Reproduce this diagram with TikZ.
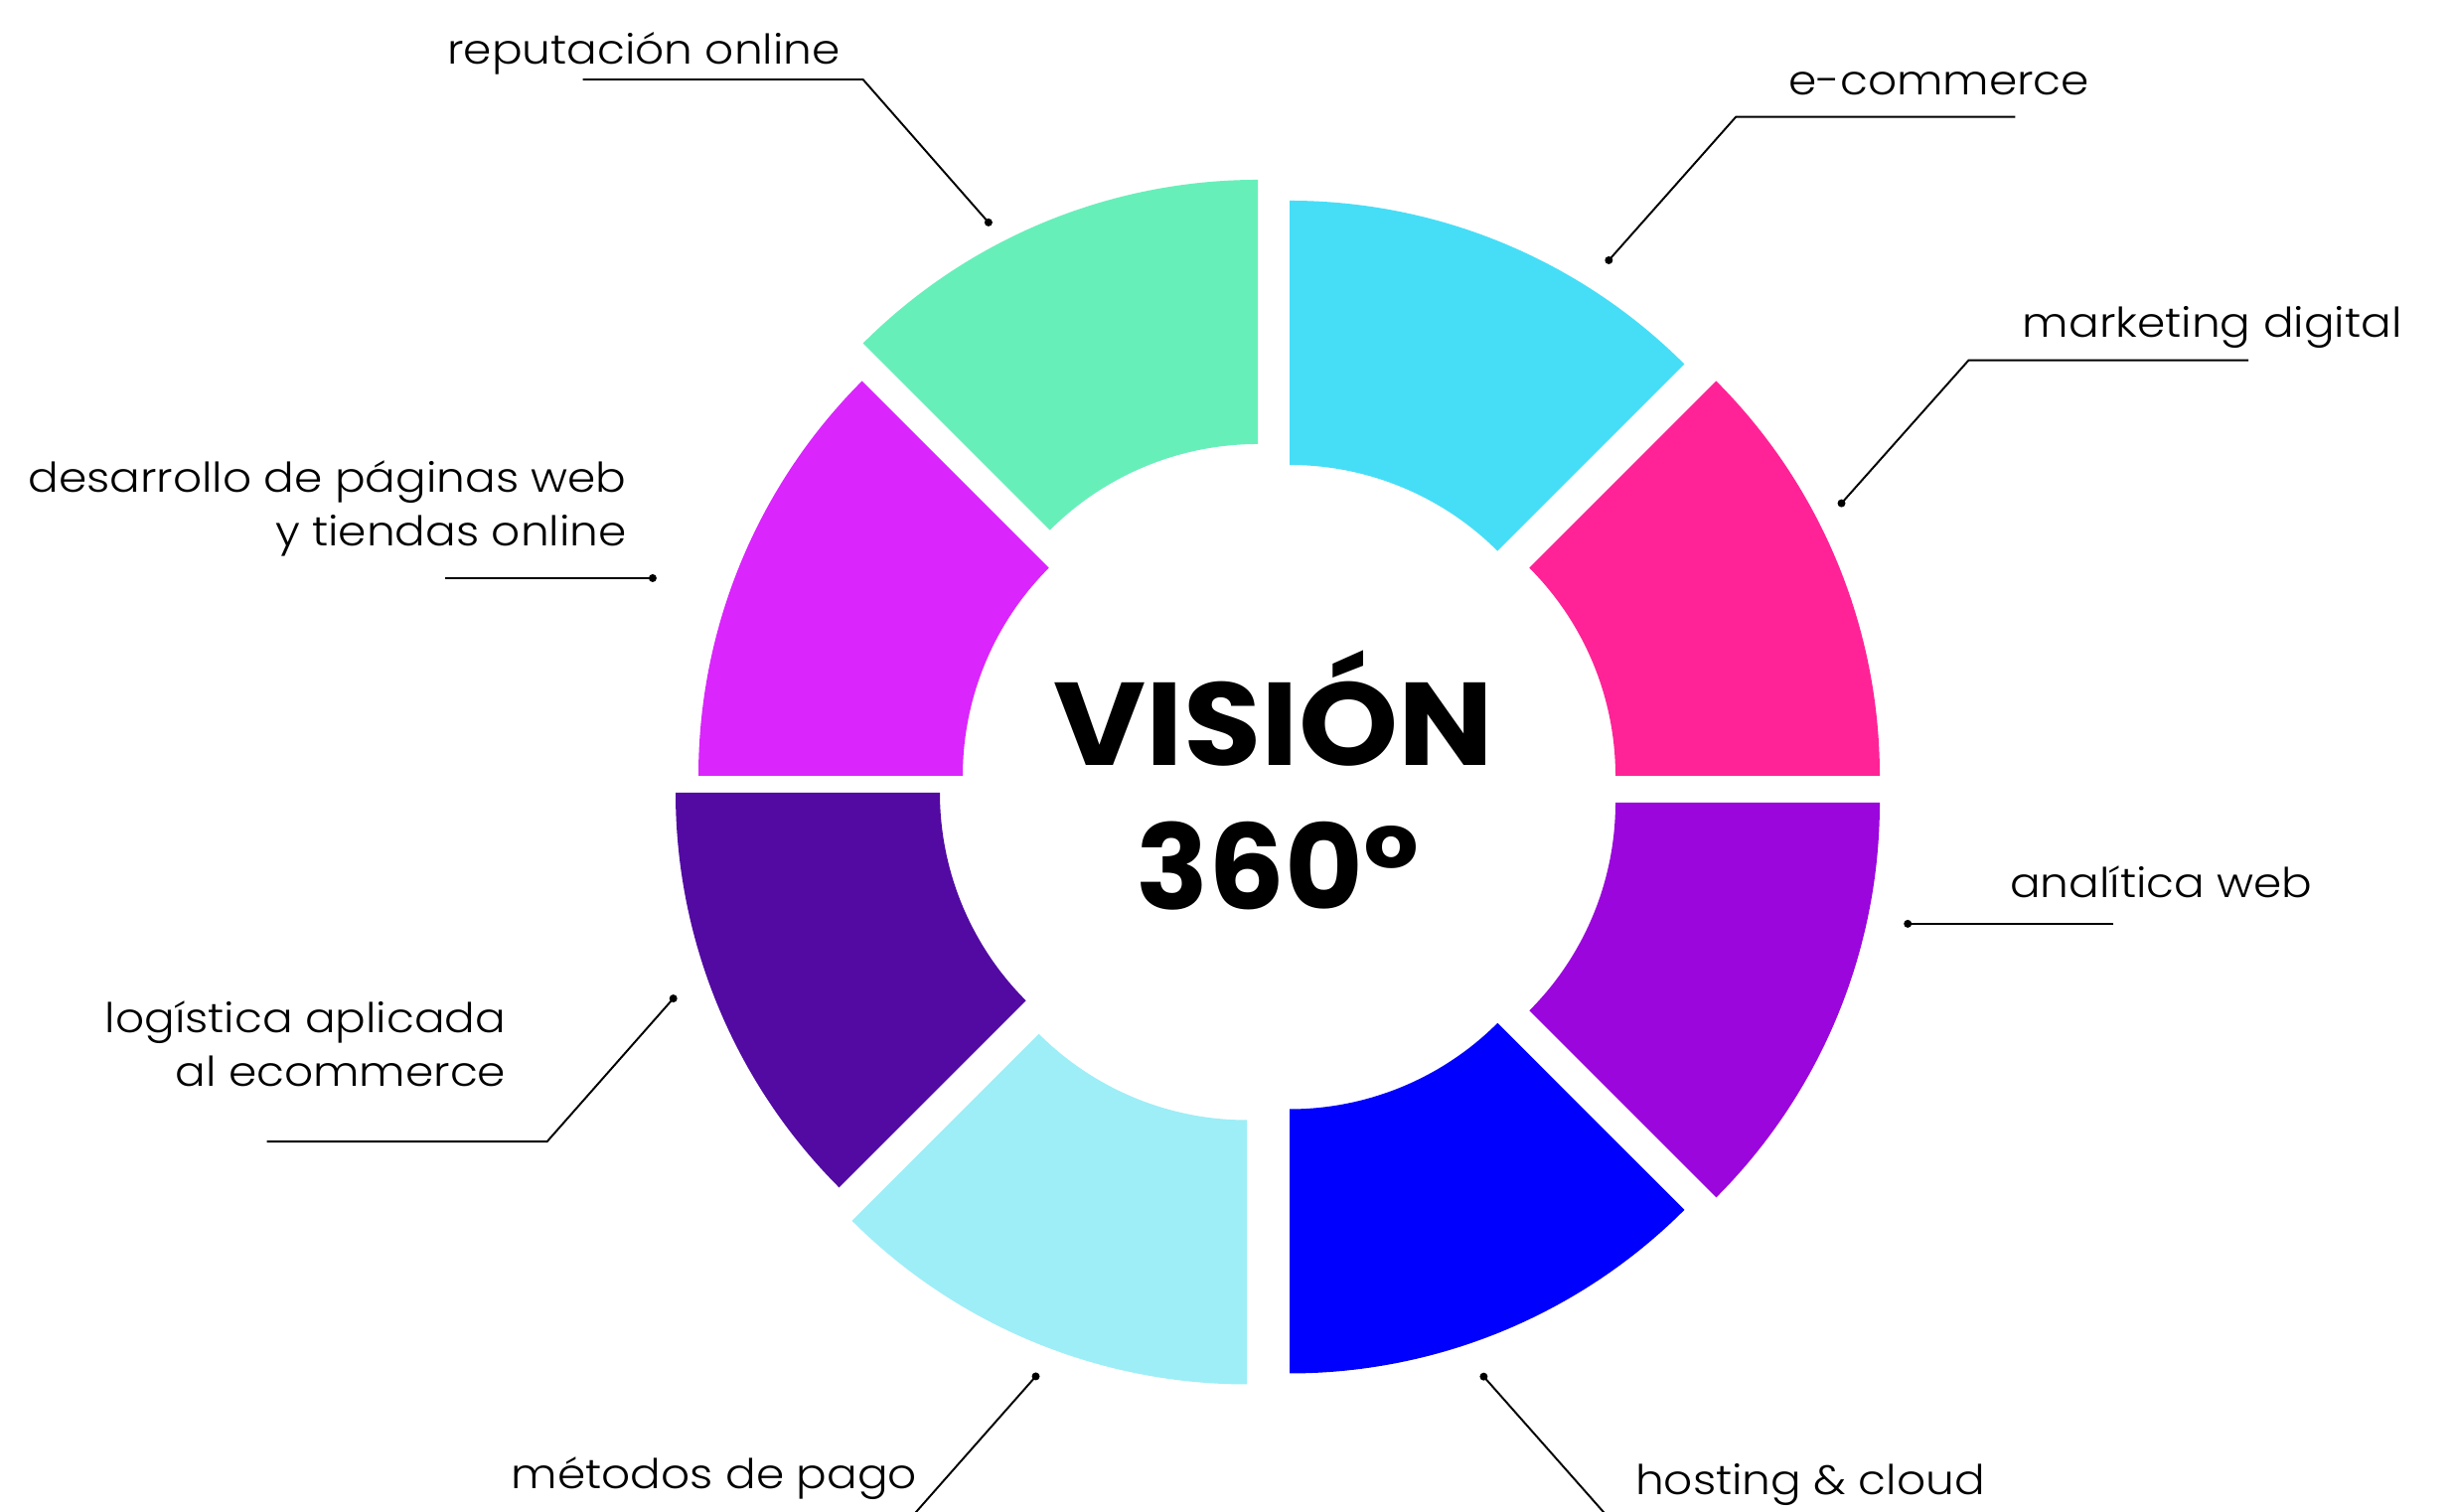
\documentclass[tikz,border=0pt]{standalone}
\usepackage{fontspec}
\setmainfont{Poppins Light}
\newfontfamily\lblfont{Poppins Light}[FakeStretch=1.10]
\newfontfamily\bigfont{Poppins Bold}[FakeStretch=1.075]
\newfontfamily\numfont{Poppins Bold}[FakeStretch=1.02]
\definecolor{cgreen}{HTML}{67EFBA}
\definecolor{ccyan}{HTML}{46DEF7}
\definecolor{cpink}{HTML}{FF2397}
\definecolor{cviolet}{HTML}{9B06DD}
\definecolor{cblue}{HTML}{0000FF}
\definecolor{clcyan}{HTML}{9DEEF7}
\definecolor{cdpurple}{HTML}{520AA3}
\definecolor{cmagenta}{HTML}{DA25FD}
\newcommand{\ringseg}[5]{\fill[#1,shift={(#2,#3)}] (#4:562) arc[start angle=#4,end angle=#5,radius=562] -- (#5:296) arc[start angle=#5,end angle=#4,radius=296] -- cycle;}
\begin{document}
\begin{tikzpicture}[x=0.01cm,y=0.01cm,
  lbl/.style={font=\lblfont\fontsize{11.75}{14}\selectfont, inner sep=0pt, text=black},
  lead/.style={line width=0.55pt, draw=black},
  dot/.style={circle, fill=black, inner sep=0pt, minimum size=0.08cm},
  big/.style={font=\bigfont\fontsize{33.7}{40}\selectfont, inner sep=0pt, text=black},
  num/.style={font=\numfont\fontsize{33.7}{40}\selectfont, inner sep=0pt, text=black}]
\useasboundingbox (0,0) rectangle (2469,1522);
\clip (0,0) rectangle (2469,1522);
\fill[white] (0,0) rectangle (2469,1522);
% ring segments
\ringseg{cgreen}{1266}{779}{90}{135}
\ringseg{ccyan}{1298}{758}{45}{90}
\ringseg{cpink}{1330}{741}{0}{45}
\ringseg{cviolet}{1330}{714}{-45}{0}
\ringseg{cblue}{1298}{701.5}{-90}{-45}
\ringseg{clcyan}{1255}{690.5}{-135}{-90}
\ringseg{cdpurple}{1242}{724}{180}{225}
\ringseg{cmagenta}{1265}{741}{135}{180}
% centre title
\node[big, anchor=base] (t1) at (1282,751.4) {VISIÓN};
\node[num, anchor=base] (t2) at (1286,606) {360°};
% labels
\node[lbl, anchor=base west] (lrep) at (449.6,1457.7) {reputación online};
\node[lbl, anchor=base west] (lecom) at (1799.7,1426.7) {e-commerce};
\node[lbl, anchor=base west] (lmkt) at (2035.2,1182.1) {marketing digital};
\node[lbl, anchor=base east] (ldes1) at (631.4,1026.6) {desarrollo de páginas web};
\node[lbl, anchor=base east] (ldes2) at (631.4,972.7) {y tiendas online};
\node[lbl, anchor=base west] (lana) at (2022.4,618.4) {analítica web};
\node[lbl, anchor=base east] (llog1) at (510,482.4) {logística aplicada};
\node[lbl, anchor=base east] (llog2) at (510,428.4) {al ecommerce};
\node[lbl, anchor=base west] (lmet) at (514.2,23) {métodos de pago};
\node[lbl, anchor=base west] (lhost) at (1645.4,17.5) {hosting \& cloud};
% leader lines
\coordinate (repA) at (586.7,1442); \coordinate (repB) at (868.6,1442);
\node[dot] (repD) at (994.9,1298.1) {};
\draw[lead] (repA) -- (repB) -- (repD.center);
\coordinate (ecoA) at (2028.4,1404.3); \coordinate (ecoB) at (1747.2,1404.3);
\node[dot] (ecoD) at (1619.3,1260) {};
\draw[lead] (ecoA) -- (ecoB) -- (ecoD.center);
\coordinate (mktA) at (2263.2,1159.3); \coordinate (mktB) at (1981.4,1159.3);
\node[dot] (mktD) at (1853.5,1015.4) {};
\draw[lead] (mktA) -- (mktB) -- (mktD.center);
\coordinate (desA) at (448.3,940);
\node[dot] (desD) at (656.9,940) {};
\draw[lead] (desA) -- (desD.center);
\coordinate (anaA) at (2127.4,592.1);
\node[dot] (anaD) at (1920.2,592.1) {};
\draw[lead] (anaA) -- (anaD.center);
\coordinate (logA) at (268.7,372.9); \coordinate (logB) at (550.7,372.9);
\node[dot] (logD) at (677.7,516.9) {};
\draw[lead] (logA) -- (logB) -- (logD.center);
\coordinate (metB) at (915,-8); \coordinate (metA) at (600,-8);
\node[dot] (metD) at (1042.5,136.5) {};
\draw[lead] (metD.center) -- (metB) -- (metA);
\coordinate (hosB) at (1621,-8); \coordinate (hosA) at (1900,-8);
\node[dot] (hosD) at (1493.4,136.3) {};
\draw[lead] (hosD.center) -- (hosB) -- (hosA);
\end{tikzpicture}
\end{document}
